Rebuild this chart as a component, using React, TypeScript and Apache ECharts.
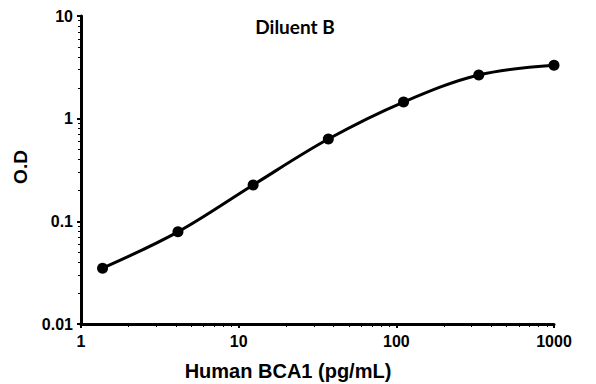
import React, { useEffect, useRef } from "react";
import * as echarts from "echarts";

const concentrations = [1.37, 4.12, 12.35, 37.04, 111.1, 333.3, 1000];
const odValues = [0.035, 0.079, 0.226, 0.633, 1.45, 2.66, 3.32];
const xTicks = [1, 10, 100, 1000];
const yTicks = [0.01, 0.1, 1, 10];
const titleText = "Diluent B";
const xTitle = "Human BCA1 (pg/mL)";
const yTitle = "O.D";

function minorValues(majors: number[]): number[] {
  const out: number[] = [];
  for (let i = 0; i < majors.length - 1; i++) {
    for (let k = 2; k <= 9; k++) out.push(majors[i] * k);
  }
  return out;
}

const FONT = "'Liberation Sans', Arial, sans-serif";

export default function App() {
  const ref = useRef<HTMLDivElement>(null);
  useEffect(() => {
    if (!ref.current) return;
    const chart = echarts.init(ref.current, undefined, { renderer: "svg" });
    const labelStyle = { color: "#000", fontWeight: "bold" as const, fontSize: 16, fontFamily: FONT };
    chart.setOption({
      animation: false,
      backgroundColor: "#fff",
      grid: { left: 81, right: 42, top: 16, bottom: 60 },
      xAxis: [
        {
          type: "log",
          logBase: 10,
          min: 1,
          max: 1000,
          splitLine: { show: false },
          axisLine: { lineStyle: { color: "#000", width: 3 } },
          axisTick: { show: true, length: 4, lineStyle: { color: "#000", width: 2 }, customValues: xTicks },
          axisLabel: { ...labelStyle, margin: 9, customValues: xTicks, formatter: (v: number) => String(Math.round(v)) },
        },
        {
          type: "log",
          logBase: 10,
          min: 1,
          max: 1000,
          position: "bottom",
          splitLine: { show: false },
          axisLine: { show: false },
          axisLabel: { show: false },
          axisTick: { show: true, length: 3, lineStyle: { color: "#000", width: 1 }, customValues: minorValues(xTicks) },
        },
      ],
      yAxis: [
        {
          type: "log",
          logBase: 10,
          min: 0.01,
          max: 10,
          splitLine: { show: false },
          axisLine: { show: true, lineStyle: { color: "#000", width: 3 } },
          axisTick: { show: true, length: 4, lineStyle: { color: "#000", width: 2 }, customValues: yTicks },
          axisLabel: {
            ...labelStyle,
            margin: 8,
            customValues: yTicks,
            formatter: (v: number) => (v >= 1 ? String(Math.round(v)) : String(Number(v.toPrecision(1)))),
          },
        },
        {
          type: "log",
          logBase: 10,
          min: 0.01,
          max: 10,
          position: "left",
          splitLine: { show: false },
          axisLine: { show: false },
          axisLabel: { show: false },
          axisTick: { show: true, length: 3, lineStyle: { color: "#000", width: 1 }, customValues: minorValues(yTicks) },
        },
      ],
      graphic: [
        {
          type: "text",
          x: 295,
          y: 26,
          style: { text: titleText, fill: "#000", font: "bold 19px Lato, 'Open Sans', sans-serif", align: "center", verticalAlign: "middle" },
        },
        {
          type: "text",
          x: 288,
          y: 371,
          style: { text: xTitle, fill: "#000", font: `bold 20px ${FONT}`, align: "center", verticalAlign: "middle" },
        },
        {
          type: "text",
          x: 20,
          y: 167,
          rotation: Math.PI / 2,
          style: { text: yTitle, fill: "#000", font: `bold 19px ${FONT}`, align: "center", verticalAlign: "middle" },
        },
      ],
      series: [
        {
          type: "line",
          xAxisIndex: 0,
          yAxisIndex: 0,
          data: concentrations.map((c, i) => [c, odValues[i]]),
          smooth: 0.35,
          symbol: "circle",
          symbolSize: 11,
          lineStyle: { color: "#000", width: 3 },
          itemStyle: { color: "#000" },
        },
      ],
    });
    return () => chart.dispose();
  }, []);
  return <div ref={ref} style={{ width: 596, height: 384, position: "absolute", left: 0, top: 0 }} />;
}
